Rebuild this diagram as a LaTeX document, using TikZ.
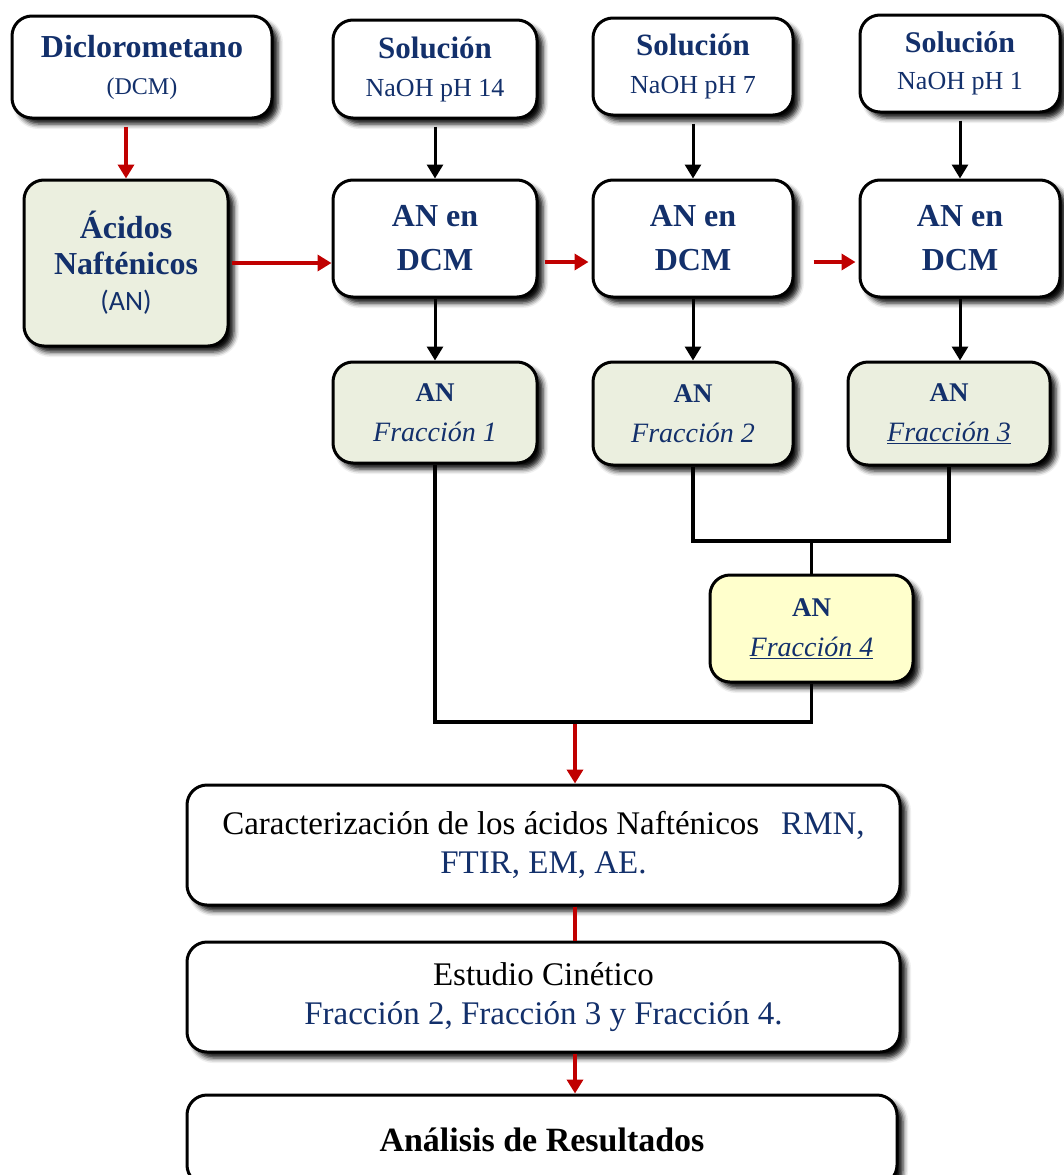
\documentclass[tikz,border=0pt]{standalone}
\usepackage{fontspec}
\setmainfont{Liberation Serif}
\newfontfamily\calib{Carlito}
\usetikzlibrary{arrows.meta,shadows.blur,calc}
\definecolor{navy}{HTML}{13306B}
\definecolor{darkred}{HTML}{C00000}
\definecolor{greenfill}{HTML}{EBEFDF}
\definecolor{yellowfill}{HTML}{FFFFCC}
\newcommand{\fs}[1]{\fontsize{#1}{#1}\selectfont}
\newcommand{\skipfont}[1]{\fontsize{20}{#1}\selectfont}
\begin{document}
\begin{tikzpicture}[x=1pt,y=1pt,
  boxnode/.style={draw=black, line width=3pt, rounded corners=20pt, fill=white,
    align=center, inner sep=0pt, text=navy,
    blur shadow={shadow xshift=6pt, shadow yshift=-6pt, shadow blur radius=5pt, shadow opacity=95}},
  greenbox/.style={boxnode, fill=greenfill},
  yellowbox/.style={boxnode, fill=yellowfill},
  blackline/.style={line width=3.2pt, draw=black},
  blackarrow/.style={line width=3pt, draw=black, -{Triangle[length=14pt,width=16pt]}},
  redline/.style={line width=3.5pt, draw=darkred},
  redarrow/.style={line width=3.5pt, draw=darkred, -{Triangle[length=14pt,width=16pt]}}
]
\useasboundingbox (0,0) rectangle (1063,-1175);

% top row
\node[boxnode, minimum width=260pt, minimum height=102pt, font=\skipfont{37}] (dcm) at (142,-67)
  {{\fs{32}\bfseries Diclorometano}\\{\fs{24}(DCM)}};
\node[boxnode, minimum width=204pt, minimum height=98pt, font=\skipfont{38}] (sol14) at (435,-69)
  {{\fs{31}\bfseries Solución}\\{\fs{26}NaOH pH 14}};
\node[boxnode, minimum width=200pt, minimum height=97pt, font=\skipfont{38}] (sol7) at (693,-66.5)
  {{\fs{31}\bfseries Solución}\\{\fs{26}NaOH pH 7}};
\node[boxnode, minimum width=200pt, minimum height=97pt, font=\skipfont{37}] (sol1) at (960,-63.5)
  {{\fs{30}\bfseries Solución}\\{\fs{26}NaOH pH 1}};

% second row
\node[greenbox, minimum width=204pt, minimum height=166pt, font=\skipfont{36}] (acid) at (126,-263)
  {{\fs{32}\bfseries Ácidos}\\{\fs{32}\bfseries Nafténicos}\\{\calib\fs{28}(AN)}};
\node[boxnode, minimum width=204pt, minimum height=117pt, font=\skipfont{44}] (d1) at (435,-238.5)
  {{\fs{32}\bfseries AN en}\\{\fs{32}\bfseries DCM}};
\node[boxnode, minimum width=200pt, minimum height=117pt, font=\skipfont{44}] (d2) at (693,-238.5)
  {{\fs{32}\bfseries AN en}\\{\fs{32}\bfseries DCM}};
\node[boxnode, minimum width=200pt, minimum height=117pt, font=\skipfont{44}] (d3) at (960,-238.5)
  {{\fs{32}\bfseries AN en}\\{\fs{32}\bfseries DCM}};

% fractions
\node[greenbox, minimum width=204pt, minimum height=101pt, font=\skipfont{40}] (f1) at (435,-412.5)
  {{\fs{27}\bfseries AN}\\{\fs{28}\itshape Fracción 1}};
\node[greenbox, minimum width=200pt, minimum height=103pt, font=\skipfont{40}] (f2) at (693,-413.5)
  {{\fs{27}\bfseries AN}\\{\fs{28}\itshape Fracción 2}};
\node[greenbox, minimum width=202pt, minimum height=103pt, font=\skipfont{40}] (f3) at (949,-413.5)
  {{\fs{27}\bfseries AN}\\{\fs{28}\itshape \underline{Fracción 3}}};
\node[yellowbox, minimum width=203pt, minimum height=107pt, font=\skipfont{40}] (f4) at (811.5,-628.5)
  {{\fs{27}\bfseries AN}\\{\fs{28}\itshape \underline{Fracción 4}}};

% bottom boxes
\node[boxnode, minimum width=713pt, minimum height=120pt, font=\skipfont{39}] (car) at (543.5,-845)
  {{\fs{33}{\color{black}Caracterización de los ácidos Nafténicos}\hspace{22pt}RMN,}\\{\fs{33}FTIR, EM, AE.}};
\node[boxnode, minimum width=713pt, minimum height=110pt, font=\skipfont{39}] (est) at (543.5,-997)
  {{\fs{33}\color{black}Estudio Cinético}\\{\fs{33}Fracción 2, Fracción 3 y Fracción 4.}};
\node[boxnode, minimum width=710pt, minimum height=90pt] (ana) at (542,-1140)
  {\fs{34}\bfseries\color{black}Análisis de Resultados};

% connectors: top
\draw[redarrow, shorten <=7pt] (dcm.south -| acid.north) -- (acid.north);
\draw[blackarrow, shorten <=7pt] (sol14.south) -- (d1.north);
\draw[blackarrow, shorten <=7pt] (sol7.south) -- (d2.north);
\draw[blackarrow, shorten <=7pt] (sol1.south) -- (d3.north);
\draw[redarrow, shorten <=2pt] (acid.east) -- (acid.east -| d1.west);
\draw[redarrow, shorten <=6pt, shorten >=3pt] (d1.east |- 0,-262) -- (d2.west |- 0,-262);
\draw[redarrow, shorten <=19pt, shorten >=3pt] (d2.east |- 0,-262) -- (d3.west |- 0,-262);
\draw[blackarrow] (d1.south) -- (f1.north);
\draw[blackarrow] (d2.south) -- (f2.north);
\draw[blackarrow] (d3.south) -- (d3.south |- f3.north);

% merge lines
\coordinate (j1) at (0,-541);
\coordinate (m) at (575,-722);
\draw[blackline] (f2.south) -- (f2.south |- j1) -- (f3.south |- j1) -- (f3.south);
\draw[blackline] (f4.north |- j1) -- (f4.north);
\draw[blackline] (f1.south) -- (f1.south |- m) -- (f4.south |- m) -- (f4.south);
\draw[redarrow, shorten <=1.6pt] (m) -- (car.north -| m);
\draw[redline] (car.south -| m) -- (est.north -| m);
\draw[redarrow] (est.south -| m) -- (ana.north -| m);
\end{tikzpicture}
\end{document}
